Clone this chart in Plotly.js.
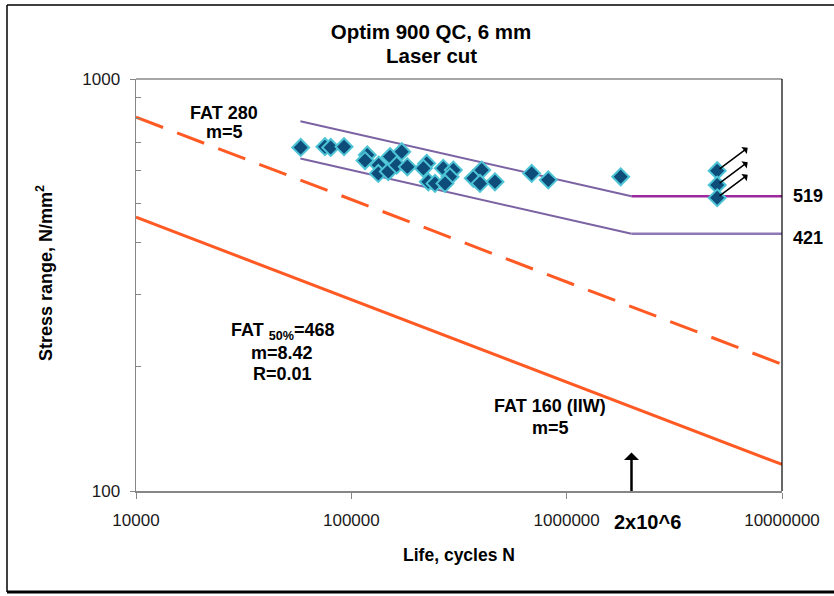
<!DOCTYPE html>
<html>
<head>
<meta charset="utf-8">
<script src="https://cdn.plot.ly/plotly-3.0.1.min.js"></script>
<style>html,body{margin:0;padding:0;background:#fff;}#chart{width:834px;height:596px;}</style>
</head>
<body>
<div id="chart"></div>
<script>
// ---- data ----
var testN = [58200, 75400, 80200, 92500, 118600, 115800, 134000, 133400, 148500, 151300,
             162500, 171400, 182000, 223900, 216000, 227800, 244700, 267300, 297600, 287200,
             272300, 368500, 403000, 395900, 464600, 688000, 821500, 1782000];
var testS = [682, 685, 682, 685, 654, 634, 618, 590, 596, 648,
             618, 666, 612, 624, 607, 563, 558, 607, 601, 579,
             558, 574, 601, 558, 563, 590, 569, 579];
var runoutN = [5000000, 5000000, 5000000];
var runoutS = [599, 553, 515];

var bandSlopeN = [58000, 2000000];
var bandUpperSlopeS = [790, 519];
var bandLowerSlopeS = [641, 421];
var bandFlatN = [2000000, 10000000];
var bandUpperFlatS = [519, 519];
var bandLowerFlatS = [421, 421];

var fatN = [10000, 10000000];
var fat280S = [808, 203];
var fat160S = [462, 116];

var xTickVals = [10000, 100000, 1000000, 10000000];
var xTickText = ['10000', '100000', '1000000', '10000000'];
var yTickVals = [100, 1000];
var yTickText = ['100', '1000'];
var yMinorVals = [200, 300, 400, 500, 600, 700, 800, 900];
var kneeN = 2000000;
// --------------------------------------

var FONT = '"Liberation Sans", Arial, sans-serif';
var RED = '#FF5A24';
var PURPLE = '#7B62A3';

var L = 136, R = 52, T = 79, B = 105, PW = 834 - L - R, PH = 596 - T - B;
function px(x){ return (x - L) / PW; }
function py(y){ return (596 - B - y) / PH; }

var mk = {symbol: 'diamond', size: 13, color: '#0E4C7A', line: {color: '#4CC4D6', width: 2}};
var traces = [
  {x: fatN, y: fat160S, mode: 'lines', line: {color: RED, width: 3}},
  {x: fatN, y: fat280S, mode: 'lines', line: {color: RED, width: 3, dash: '29px,15px'}},
  {x: bandSlopeN, y: bandUpperSlopeS, mode: 'lines', line: {color: PURPLE, width: 2}},
  {x: bandSlopeN, y: bandLowerSlopeS, mode: 'lines', line: {color: PURPLE, width: 2}},
  {x: bandFlatN, y: bandUpperFlatS, mode: 'lines', line: {color: '#9C2A9C', width: 2.5}},
  {x: bandFlatN, y: bandLowerFlatS, mode: 'lines', line: {color: '#8E78B6', width: 2.5}},
  {x: testN, y: testS, mode: 'markers', marker: mk},
  {x: runoutN, y: runoutS, mode: 'markers', marker: mk}
];

var annFont = {family: FONT, size: 18, color: '#000'};
function bold(t){ return '<b>' + t + '</b>'; }
function txt(t, xpix, ypix, size){
  return {xref: 'paper', yref: 'paper', x: px(xpix), y: py(ypix), xanchor: 'center', yanchor: 'middle',
          text: bold(t), showarrow: false, font: {family: FONT, size: size || 18, color: '#000'}};
}

var annotations = [
  txt('Laser cut', 431, 56, 20.5),
  txt('FAT 280', 224, 113),
  txt('m=5', 224, 132),
  txt('FAT <sub>50%</sub>=468', 282, 331),
  txt('m=8.42', 282, 353),
  txt('R=0.01', 282, 374),
  txt('FAT 160 (IIW)', 550, 406),
  txt('m=5', 550, 428),
  {xref: 'paper', yref: 'y', x: px(808), y: Math.log10(bandUpperFlatS[1]), xanchor: 'center', yanchor: 'middle',
   text: bold(String(bandUpperFlatS[1])), showarrow: false, font: annFont},
  {xref: 'paper', yref: 'y', x: px(808), y: Math.log10(bandLowerFlatS[1]) - 0.009, xanchor: 'center', yanchor: 'middle',
   text: bold(String(bandLowerFlatS[1])), showarrow: false, font: annFont},
  {xref: 'x', yref: 'paper', x: Math.log10(kneeN) + 0.075, y: py(522), xanchor: 'center', yanchor: 'middle',
   text: bold('2x10^6'), showarrow: false, font: {family: FONT, size: 20, color: '#000'}},
  {xref: 'paper', yref: 'paper', x: px(44), y: py(273), xanchor: 'center', yanchor: 'middle', textangle: -90,
   text: bold('Stress range, N/mm<sup>2</sup>'), showarrow: false, font: {family: FONT, size: 18, color: '#000'}},
  {xref: 'x', yref: 'y', x: Math.log10(kneeN), y: 2, ax: 0, ay: -40, text: '', showarrow: true,
   arrowside: 'start', arrowhead: 1, arrowsize: 1.5, arrowwidth: 2.5, arrowcolor: '#000'}
];
runoutN.forEach(function(n, i){
  annotations.push({xref: 'x', yref: 'y', x: Math.log10(n), y: Math.log10(runoutS[i]), ax: 32, ay: -24,
    text: '', showarrow: true, arrowside: 'start', arrowhead: 1, arrowsize: 2.6, arrowwidth: 1.5,
    arrowcolor: '#000', standoff: 3});
});

var shapes = [
  {type: 'line', xref: 'paper', yref: 'paper', x0: px(7), x1: px(840), y0: py(5), y1: py(5), line: {color: '#000', width: 1.5}},
  {type: 'line', xref: 'paper', yref: 'paper', x0: px(7), x1: px(7), y0: py(5), y1: py(592), line: {color: '#000', width: 1.5}},
  {type: 'line', xref: 'paper', yref: 'paper', x0: px(7), x1: px(840), y0: py(592), y1: py(592), line: {color: '#000', width: 3}},
  {type: 'line', xref: 'paper', yref: 'paper', x0: 0, x1: 1, y0: 1, y1: 1, line: {color: '#8A8A8A', width: 1.5}},
  {type: 'line', xref: 'paper', yref: 'paper', x0: 1, x1: 1, y0: 0, y1: 1, line: {color: '#000', width: 1.2}}
];

var layout = {
  width: 834, height: 596,
  margin: {l: L, r: R, t: T, b: B},
  paper_bgcolor: '#fff', plot_bgcolor: '#fff',
  showlegend: false,
  font: {family: FONT, color: '#111'},
  title: {text: bold('Optim 900 QC, 6 mm'), font: {family: FONT, size: 20.5, color: '#000'},
          xref: 'container', yref: 'container', x: 431/834, y: 1 - 32/596, xanchor: 'center', yanchor: 'middle'},
  xaxis: {type: 'log', range: [4, 7], showgrid: false, zeroline: false,
          showline: true, linecolor: '#868686', linewidth: 1.5,
          tickmode: 'array', tickvals: xTickVals, ticktext: xTickText,
          ticks: 'outside', ticklen: 6, tickcolor: '#868686', ticklabelstandoff: 7,
          tickfont: {family: FONT, size: 17, color: '#1a1a1a'},
          title: {text: bold('Life, cycles N'), font: {family: FONT, size: 17.5, color: '#000'}, standoff: 20}},
  yaxis: {type: 'log', range: [2, 3], showgrid: false, zeroline: false,
          showline: true, linecolor: '#868686', linewidth: 1.5,
          tickmode: 'array', tickvals: yTickVals, ticktext: yTickText,
          ticks: 'outside', ticklen: 5, tickcolor: '#868686', ticklabelstandoff: 6,
          tickfont: {family: FONT, size: 17, color: '#1a1a1a'},
          minor: {tickmode: 'array', tickvals: yMinorVals, ticks: 'inside', ticklen: 5, tickcolor: '#868686', showgrid: false}},
  shapes: shapes,
  annotations: annotations
};

Plotly.newPlot('chart', traces, layout, {displayModeBar: false, staticPlot: true});
</script>
</body>
</html>
